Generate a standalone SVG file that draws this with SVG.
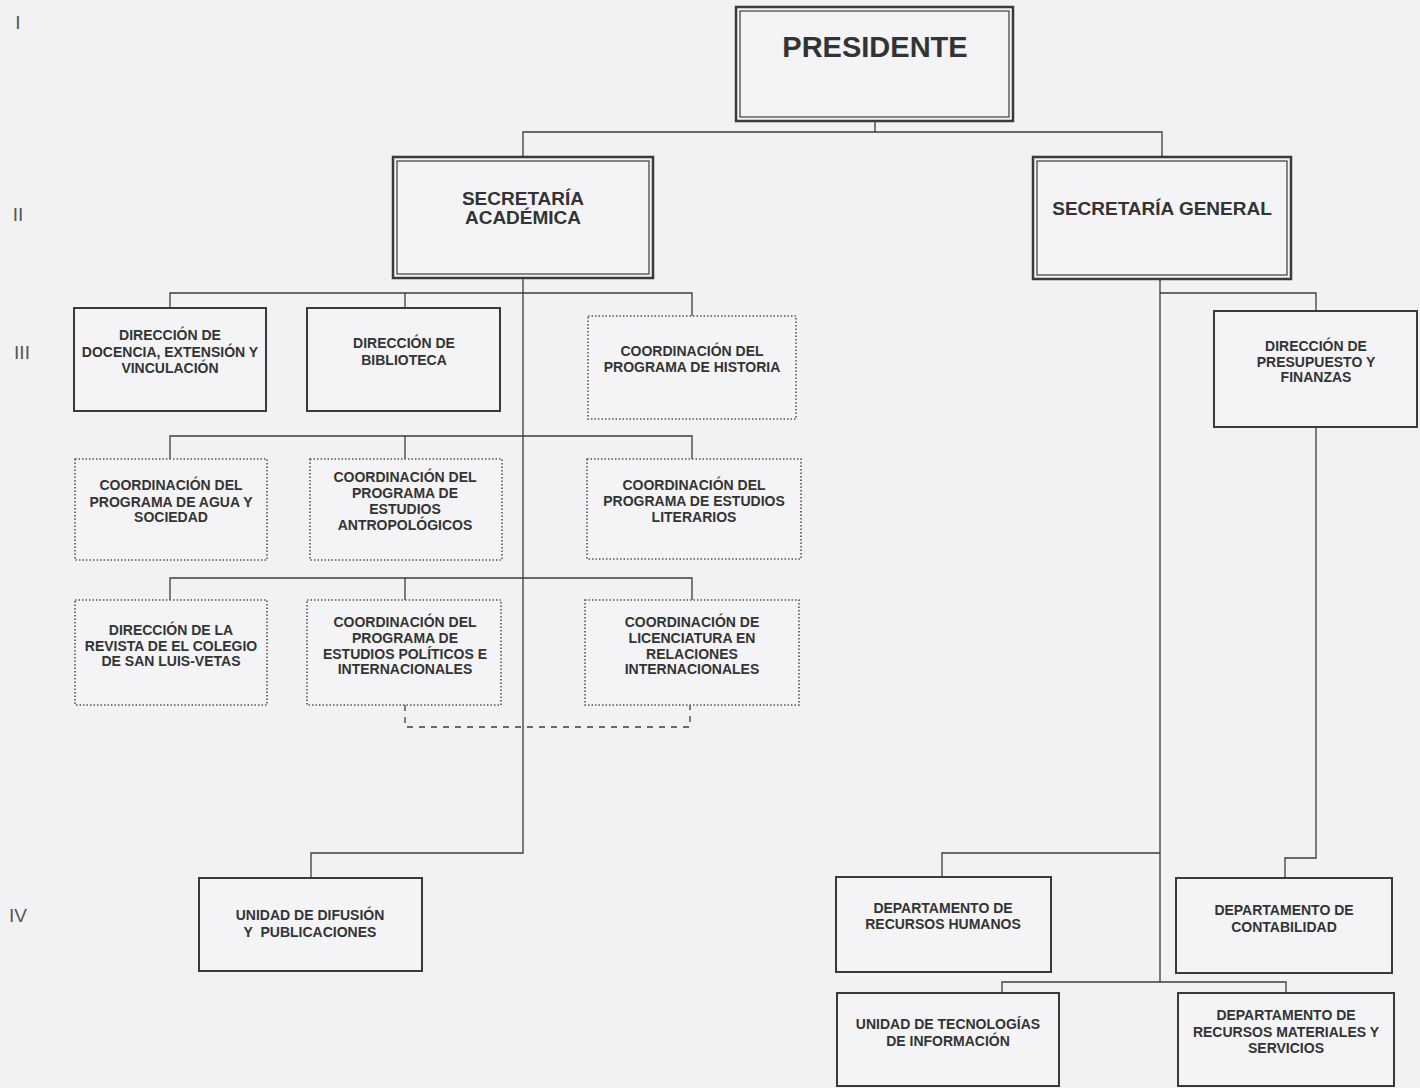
<svg xmlns="http://www.w3.org/2000/svg" width="1420" height="1088" viewBox="0 0 1420 1088">
<style>
.bg{fill:#f2f2f4}
.dbo{fill:#f4f4f6;stroke:#3a3a3a;stroke-width:2.5}
.dbi{fill:none;stroke:#3a3a3a;stroke-width:1.2}
.solid{fill:#f4f4f6;stroke:#3a3a3a;stroke-width:2}
.dot{fill:#f4f4f6;stroke:#555;stroke-width:1.6;stroke-dasharray:1.5 2}
.t{font-family:"Liberation Sans",Arial,sans-serif;font-weight:bold;fill:#333;text-anchor:middle;font-size:14px}
.t19{font-size:19px}
.t29{font-size:29px}
.lv{font-family:"Liberation Sans",Arial,sans-serif;fill:#555;font-size:19px;text-anchor:middle}
.conn{fill:none;stroke:#3c3c3c;stroke-width:1.3}
.dash{stroke-dasharray:6 6}
</style>
<rect class="bg" x="0" y="0" width="1420" height="1088"/>
<g id="levels">
<text class="lv" x="18" y="29">I</text>
<text class="lv" x="18" y="221">II</text>
<text class="lv" x="22" y="359">III</text>
<text class="lv" x="18" y="922">IV</text>
</g>
<g id="connectors">
<path class="conn" d="M875,121 V132 M523,157 V132 H1162 V158"/>
<path class="conn" d="M523,278 V853 H311 V878"/>
<path class="conn" d="M170,308 V293 H692 V316 M405,293 V308"/>
<path class="conn" d="M170,459 V436 H692 V459 M405,436 V459"/>
<path class="conn" d="M170,600 V578 H692 V600 M405,578 V600"/>
<path class="conn dash" d="M405,705 V727 H690 V705"/>
<path class="conn" d="M1160,279 V982 M1160,293 H1316 V311"/>
<path class="conn" d="M1316,427 V858 H1285 V878"/>
<path class="conn" d="M942,877 V853 H1160"/>
<path class="conn" d="M1002,993 V982 H1286 V993"/>
</g>
<g id="presidente">
<rect class="dbo" x="736" y="7" width="277" height="114"/>
<rect class="dbi" x="740" y="11" width="269" height="106"/>
<text class="t t29" x="875" y="57">PRESIDENTE</text>
</g>
<g id="sec-academica">
<rect class="dbo" x="393" y="157" width="260" height="121"/>
<rect class="dbi" x="397" y="161" width="252" height="113"/>
<text class="t t19" x="523" y="205">SECRETARÍA</text>
<text class="t t19" x="523" y="224">ACADÉMICA</text>
</g>
<g id="sec-general">
<rect class="dbo" x="1033" y="157" width="258" height="122"/>
<rect class="dbi" x="1037" y="161" width="250" height="114"/>
<text class="t t19" x="1162" y="215">SECRETARÍA GENERAL</text>
</g>
<g id="dir-docencia">
<rect class="solid" x="74" y="308" width="192" height="103"/>
<text class="t" x="170" y="340">DIRECCIÓN DE</text>
<text class="t" x="170" y="357">DOCENCIA, EXTENSIÓN Y</text>
<text class="t" x="170" y="373">VINCULACIÓN</text>
</g>
<g id="dir-biblioteca">
<rect class="solid" x="307" y="308" width="193" height="103"/>
<text class="t" x="404" y="348">DIRECCIÓN DE</text>
<text class="t" x="404" y="365">BIBLIOTECA</text>
</g>
<g id="coord-historia">
<rect class="dot" x="588" y="316" width="208" height="103"/>
<text class="t" x="692" y="356">COORDINACIÓN DEL</text>
<text class="t" x="692" y="372">PROGRAMA DE HISTORIA</text>
</g>
<g id="coord-agua">
<rect class="dot" x="75" y="459" width="192" height="101"/>
<text class="t" x="171" y="490">COORDINACIÓN DEL</text>
<text class="t" x="171" y="507">PROGRAMA DE AGUA Y</text>
<text class="t" x="171" y="522">SOCIEDAD</text>
</g>
<g id="coord-antropologicos">
<rect class="dot" x="310" y="459" width="192" height="101"/>
<text class="t" x="405" y="482">COORDINACIÓN DEL</text>
<text class="t" x="405" y="498">PROGRAMA DE</text>
<text class="t" x="405" y="514">ESTUDIOS</text>
<text class="t" x="405" y="530">ANTROPOLÓGICOS</text>
</g>
<g id="coord-literarios">
<rect class="dot" x="587" y="459" width="214" height="100"/>
<text class="t" x="694" y="490">COORDINACIÓN DEL</text>
<text class="t" x="694" y="506">PROGRAMA DE ESTUDIOS</text>
<text class="t" x="694" y="522">LITERARIOS</text>
</g>
<g id="dir-revista">
<rect class="dot" x="75" y="600" width="192" height="105"/>
<text class="t" x="171" y="635">DIRECCIÓN DE LA</text>
<text class="t" x="171" y="651">REVISTA DE EL COLEGIO</text>
<text class="t" x="171" y="666">DE SAN LUIS-VETAS</text>
</g>
<g id="coord-politicos">
<rect class="dot" x="307" y="600" width="194" height="105"/>
<text class="t" x="405" y="627">COORDINACIÓN DEL</text>
<text class="t" x="405" y="643">PROGRAMA DE</text>
<text class="t" x="405" y="659">ESTUDIOS POLÍTICOS E</text>
<text class="t" x="405" y="674">INTERNACIONALES</text>
</g>
<g id="coord-relaciones">
<rect class="dot" x="585" y="600" width="214" height="105"/>
<text class="t" x="692" y="627">COORDINACIÓN DE</text>
<text class="t" x="692" y="643">LICENCIATURA EN</text>
<text class="t" x="692" y="659">RELACIONES</text>
<text class="t" x="692" y="674">INTERNACIONALES</text>
</g>
<g id="unidad-difusion">
<rect class="solid" x="199" y="878" width="223" height="93"/>
<text class="t" x="310" y="920">UNIDAD DE DIFUSIÓN</text>
<text class="t" x="310" y="937" xml:space="preserve">Y  PUBLICACIONES</text>
</g>
<g id="dir-presupuesto">
<rect class="solid" x="1214" y="311" width="203" height="116"/>
<text class="t" x="1316" y="351">DIRECCIÓN DE</text>
<text class="t" x="1316" y="367">PRESUPUESTO Y</text>
<text class="t" x="1316" y="382">FINANZAS</text>
</g>
<g id="dep-rh">
<rect class="solid" x="836" y="877" width="215" height="95"/>
<text class="t" x="943" y="913">DEPARTAMENTO DE</text>
<text class="t" x="943" y="929">RECURSOS HUMANOS</text>
</g>
<g id="dep-contabilidad">
<rect class="solid" x="1176" y="878" width="216" height="95"/>
<text class="t" x="1284" y="915">DEPARTAMENTO DE</text>
<text class="t" x="1284" y="932">CONTABILIDAD</text>
</g>
<g id="unidad-ti">
<rect class="solid" x="837" y="993" width="222" height="93"/>
<text class="t" x="948" y="1029">UNIDAD DE TECNOLOGÍAS</text>
<text class="t" x="948" y="1046">DE INFORMACIÓN</text>
</g>
<g id="dep-materiales">
<rect class="solid" x="1178" y="993" width="216" height="93"/>
<text class="t" x="1286" y="1020">DEPARTAMENTO DE</text>
<text class="t" x="1286" y="1037">RECURSOS MATERIALES Y</text>
<text class="t" x="1286" y="1053">SERVICIOS</text>
</g>
</svg>
